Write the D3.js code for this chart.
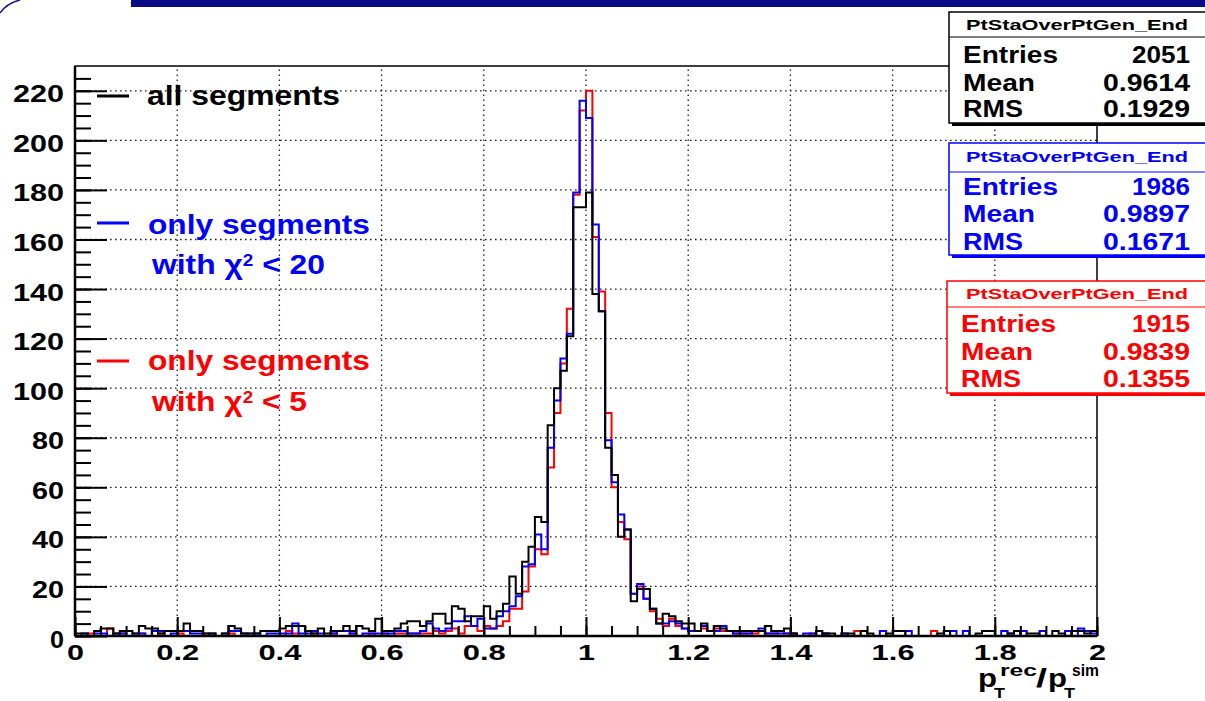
<!DOCTYPE html>
<html><head><meta charset="utf-8">
<script src="https://cdn.jsdelivr.net/npm/d3@7"></script>
<style>
body{margin:0;background:#fff}
svg{display:block}
text{font-family:"Liberation Sans",Arial,Helvetica,sans-serif;font-weight:bold}
</style>
</head><body>
<svg id="c" width="1205" height="701"></svg>
<script>
// ---------- data (160 bins on [0,2]) ----------
const nBins = 160;
const xDomain = [0, 2];
const allSegments = [
 1,1,0,2,3,3,1,2,2,1,4,3,3,1,2,2,2,5,2,2,
 1,1,0,1,4,3,1,1,1,2,2,2,3,4,4,4,2,1,3,1,
 2,2,4,2,4,3,2,7,2,2,3,5,6,6,4,6,9,9,5,12,
 11,6,8,8,12,7,10,13,24,17,30,36,48,46,85,100,107,121,173,173,
 179,138,131,76,65,40,43,14,19,19,11,5,9,8,6,5,5,2,
 5,2,4,3,2,2,2,2,2,2, 4,2,2,3,1,0,0,0,2,1, 1,0,1,1,0,2,1,0,0,1,
 2,2,0,0,0,0,0,1,2,0, 0,0,0,1,2,2,0,0,1,2, 0,1,1,0,0,2,1,0,2,2, 1,2];
const chi2lt20 = [
 0,1,0,1,1,0,1,1,0,1,1,0,2,2,0,1, 2,2,1,1,0,1,0,1,2,2,1,0,1,0,1,1,
 1,1,5,1,1,2,1,0,1,2,2,1,0,1,1,1, 1,1,2,2,1,1,2,5,3,2,3,6,
 6,8,4,7,3,3,8,10,12,16,28,29,41,35,76,95,112,122,179,216,
 209,166,131,79,62,49,43,17,21,15,11,5,5,6,5,3,2,2,
 4,2,2,4,2,1,1,1,2,3, 1,1,1,1,1,0,1,1,0,1, 0,0,1,0,0,0,0,0,2,0,
 0,0,2,0,0,0,0,0,0,2, 0,2,0,0,0,0,0,2,1,0, 2,0,0,2,0,0,0,2,0,3, 2,1];
const chi2lt5 = [
 0,0,1,0,0,3,0,1,0,0,1,0,0,1,0,0, 1,0,0,0,1,0,0,0,1,0,0,1,0,0,0,0,
 0,2,1,0,0,1,0,0,1,0,0,1,0,0,1,0, 1,0,1,1,1,1,1,1,2,1,2,3,
 1,4,4,2,4,3,4,6,11,11,18,28,35,33,68,90,110,132,178,212,
 220,161,139,90,60,46,39,17,20,15,10,7,4,7,4,3,2,2,
 3,2,3,2,2,1,1,1,1,2, 1,1,2,1,1,0,0,1,0,1, 0,0,0,0,2,0,0,0,0,0,
 0,0,0,0,0,0,2,0,0,0, 0,0,0,0,0,0,0,0,0,0, 0,0,0,0,0,0,0,0,0,0, 0,0];
const xMajorTicks = [0,0.2,0.4,0.6,0.8,1,1.2,1.4,1.6,1.8,2];
const xTickLabels = ["0","0.2","0.4","0.6","0.8","1","1.2","1.4","1.6","1.8","2"];
const yMajorTicks = [0,20,40,60,80,100,120,140,160,180,200,220];
const yTickLabels = ["0","20","40","60","80","100","120","140","160","180","200","220"];
const statsTitle = "PtStaOverPtGen_End";
const statsLabels = ["Entries","Mean","RMS"];
const statsBlack = ["2051","0.9614","0.1929"];
const statsBlue  = ["1986","0.9897","0.1671"];
const statsRed   = ["1915","0.9839","0.1355"];

// ---------- layout ----------
const svg = d3.select("#c");
const W=1205,H=701;
const x = d3.scaleLinear().domain(xDomain).range([75,1097]);
const y = d3.scaleLinear().domain([0,230]).range([636,66]);
const xMinor = d3.range(0, 2.0001, 0.05).map(v=>+v.toFixed(2));
const yMinor = d3.range(0, 230, 5);

// top decoration
svg.append("rect").attr("x",131).attr("y",0).attr("width",W-131).attr("height",7).attr("fill","#0b0b86");
svg.append("path").attr("d","M0,13 Q7,3 20,0").attr("fill","none").attr("stroke","#1a1a9a").attr("stroke-width",1.5);

// grid
const grid = svg.append("g").attr("stroke","#222").attr("stroke-width",1.3).attr("stroke-dasharray","1.6,3.4");
grid.selectAll(".gv").data(xMajorTicks.slice(1,-1)).join("line")
  .attr("x1",d=>x(d)).attr("x2",d=>x(d)).attr("y1",y(0)).attr("y2",y(230));
grid.selectAll(".gh").data(yMajorTicks.slice(1)).join("line")
  .attr("y1",d=>y(d)).attr("y2",d=>y(d)).attr("x1",x(0)).attr("x2",x(2));

// histograms
function histPath(vals){
  const bw = (xDomain[1]-xDomain[0])/nBins;
  const pts=[[0,0]];
  vals.forEach((v,i)=>pts.push([i*bw,v]));
  pts.push([xDomain[1],vals[vals.length-1]]);
  pts.push([xDomain[1],0]);
  return d3.line().x(d=>x(d[0])).y(d=>y(d[1])).curve(d3.curveStepAfter)(pts);
}
const series=[{v:chi2lt5,c:"#ff0000"},{v:chi2lt20,c:"#0000ff"},{v:allSegments,c:"#000000"}];
svg.append("g").selectAll("path").data(series).join("path")
  .attr("d",d=>histPath(d.v)).attr("fill","none").attr("stroke",d=>d.c).attr("stroke-width",2);

// axes
const yAxis = d3.axisLeft(y).tickValues(yMajorTicks).tickSizeInner(-32).tickSizeOuter(0).tickPadding(11)
  .tickFormat((d,i)=>yTickLabels[i]);
const gy = svg.append("g").attr("transform",`translate(${x(0)},0)`).call(yAxis);
gy.select(".domain").remove();
gy.selectAll(".tick line").attr("stroke","#000").attr("stroke-width",2);
const yw={1:14,2:32,3:51};
gy.selectAll(".tick text").attr("font-size",24).attr("fill","#000").attr("dy","0.46em")
  .attr("font-family",'"Liberation Sans",Arial,sans-serif').attr("font-weight","bold")
  .attr("textLength",d=>yw[String(d).length]).attr("lengthAdjust","spacingAndGlyphs");
const gym = svg.append("g").attr("transform",`translate(${x(0)},0)`)
  .call(d3.axisLeft(y).tickValues(yMinor).tickSizeInner(-16).tickSizeOuter(0).tickFormat(""));
gym.select(".domain").remove();
gym.selectAll(".tick line").attr("stroke","#000").attr("stroke-width",2);

const xAxis = d3.axisBottom(x).tickValues(xMajorTicks).tickSizeInner(-19).tickSizeOuter(0).tickPadding(8)
  .tickFormat((d,i)=>xTickLabels[i]);
const gx = svg.append("g").attr("transform",`translate(0,${y(0)})`).call(xAxis);
gx.select(".domain").remove();
gx.selectAll(".tick line").attr("stroke","#000").attr("stroke-width",2);
gx.selectAll(".tick text").attr("font-size",22).attr("fill","#000")
  .attr("font-family",'"Liberation Sans",Arial,sans-serif').attr("font-weight","bold")
  .attr("textLength",(d,i)=>{const s=xTickLabels[i];let w=0;for(const ch of s)w+=ch==="."?9:17;return w;})
  .attr("lengthAdjust","spacingAndGlyphs");
const gxm = svg.append("g").attr("transform",`translate(0,${y(0)})`)
  .call(d3.axisBottom(x).tickValues(xMinor).tickSizeInner(-10).tickSizeOuter(0).tickFormat(""));
gxm.select(".domain").remove();
gxm.selectAll(".tick line").attr("stroke","#000").attr("stroke-width",2);

// frame
svg.append("rect").attr("x",x(0)).attr("y",y(230)).attr("width",x(2)-x(0)).attr("height",y(0)-y(230))
  .attr("fill","none").attr("stroke","#000").attr("stroke-width",1.5);
svg.append("line").attr("x1",x(0)).attr("x2",x(0)).attr("y1",y(230)).attr("y2",y(0)).attr("stroke","#000").attr("stroke-width",2.5);
svg.append("line").attr("x1",x(0)).attr("x2",x(2)).attr("y1",y(0)).attr("y2",y(0)).attr("stroke","#000").attr("stroke-width",2.5);

// helpers
function txt(s,xx,yy,fs,opts={}){
  const t=svg.append("text").attr("x",xx).attr("y",yy).attr("font-size",fs).text(s).attr("fill",opts.fill||"#000");
  if(opts.w) t.attr("textLength",opts.w).attr("lengthAdjust","spacingAndGlyphs");
  if(opts.anchor) t.attr("text-anchor",opts.anchor);
  if(opts.weight) t.attr("font-weight",opts.weight);
  return t;
}
// axis title p_T^rec / p_T^sim
txt("p",978,687,26,{w:19});
txt("T",994,698,14,{w:11});
txt("rec",1000,676,16,{w:37});
txt("/",1036,687,26,{w:11});
txt("p",1048,687,26,{w:19});
txt("T",1064,698,14,{w:11});
txt("sim",1072,676,16,{w:27});

// legend
function legendLine(y0,c){svg.append("line").attr("x1",97).attr("x2",129).attr("y1",y0).attr("y2",y0).attr("stroke",c).attr("stroke-width",3);}
function chiText(xx,yy,rest,c,w){
  const t=svg.append("text").attr("x",xx).attr("y",yy).attr("font-size",27).attr("fill",c)
    .attr("textLength",w).attr("lengthAdjust","spacingAndGlyphs");
  t.append("tspan").text("with χ");
  t.append("tspan").attr("font-size",16).attr("dy",-8).text("2");
  t.append("tspan").attr("dy",8).text(" < "+rest);
  return t;
}
legendLine(96,"#000");
txt("all segments",147,105,27,{w:193});
legendLine(223,"#0000ff");
txt("only segments",148,234,27,{w:222,fill:"#0000ff"});
chiText(152,274,"20","#0000ff",173);
legendLine(361,"#ff0000");
txt("only segments",148,370,27,{w:222,fill:"#ff0000"});
chiText(152,411,"5","#ff0000",155);

// stats boxes
function statsBox(x0,top,sep,bottom,c,vals,tb,rows){
  svg.append("rect").attr("x",x0+3).attr("y",top+3).attr("width",W).attr("height",bottom-top).attr("fill",c);
  svg.append("rect").attr("x",x0).attr("y",top).attr("width",W).attr("height",bottom-top)
    .attr("fill","#fff").attr("stroke",c).attr("stroke-width",1.5);
  svg.append("line").attr("x1",x0).attr("x2",W).attr("y1",sep).attr("y2",sep).attr("stroke",c).attr("stroke-width",1.2);
  txt(statsTitle,1077,tb,15,{w:222,anchor:"middle",fill:c,weight:"normal"});
  const lw=[95,72,60];
  statsLabels.forEach((l,i)=>{
    txt(l,x0+14,rows[i],23,{w:lw[i],fill:c});
    txt(vals[i],1190,rows[i],23,{w:vals[i].length===4?58:87,anchor:"end",fill:c});
  });
}
statsBox(949,12,37,123,"#000",statsBlack,30,[63,91,117]);
statsBox(949,143,172,255,"#0000ff",statsBlue,162,[195,222,250]);
statsBox(947,281,307,393,"#ff0000",statsRed,299,[332,360,387]);
</script>
</body></html>
